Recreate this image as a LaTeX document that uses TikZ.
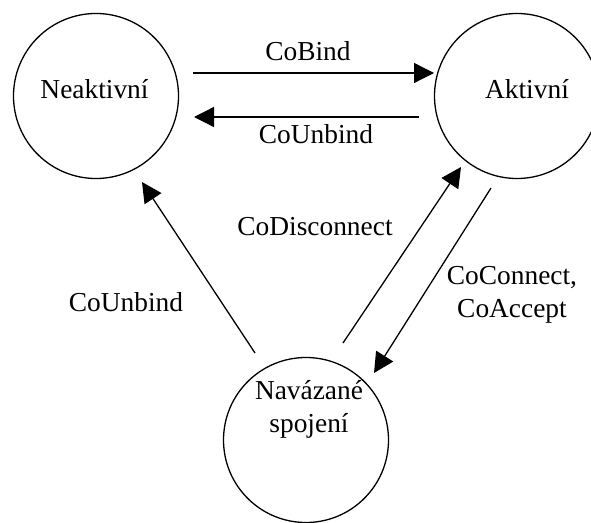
\documentclass[tikz,border=0pt]{standalone}
\usepackage{fontspec}
\setmainfont{Liberation Serif}
\usetikzlibrary{arrows.meta}
\begin{document}
\begin{tikzpicture}[x=1bp,y=-1bp,
  state/.style={circle,draw,line width=1.3bp,minimum size=165bp,inner sep=0pt},
  lbl/.style={anchor=base,inner sep=0pt,font=\fontsize{27.5}{32.5}\selectfont,align=center},
  arr/.style={line width=1.3bp,-{Triangle[length=20bp,width=20bp]}}]
\useasboundingbox[fill=white] (0,0) rectangle (591,523);
\node[state] (neak) at (96,96) {};
\node[state] (akt) at (517,96) {};
\node[state] (nav) at (306,440) {};
\node[lbl] (tneak) at (94.5,99) {Neaktivní};
\node[lbl] (takt) at (527,99) {Aktivní};
\node[lbl] (tnav) at (309,432) {Navázané\\spojení};
\coordinate (b1) at (193,73);  \coordinate (b2) at (434,73);
\coordinate (u1) at (419,117); \coordinate (u2) at (194,117);
\coordinate (n1) at (255,353); \coordinate (n2) at (142,182);
\coordinate (d1) at (343,343); \coordinate (d2) at (461,167);
\coordinate (c1) at (491,188); \coordinate (c2) at (374,373);
\draw[arr] (b1) -- (b2);
\draw[arr] (u1) -- (u2);
\draw[arr] (n1) -- (n2);
\draw[arr] (d1) -- (d2);
\draw[arr] (c1) -- (c2);
\node[lbl] (lbind) at (308,61) {CoBind};
\node[lbl] (lunbind) at (316,144) {CoUnbind};
\node[lbl] (ldisc) at (315,236) {CoDisconnect};
\node[lbl] (lunbind2) at (126,311) {CoUnbind};
\node[lbl] (lconn) at (512,317) {CoConnect,\\CoAccept};
\end{tikzpicture}
\end{document}
